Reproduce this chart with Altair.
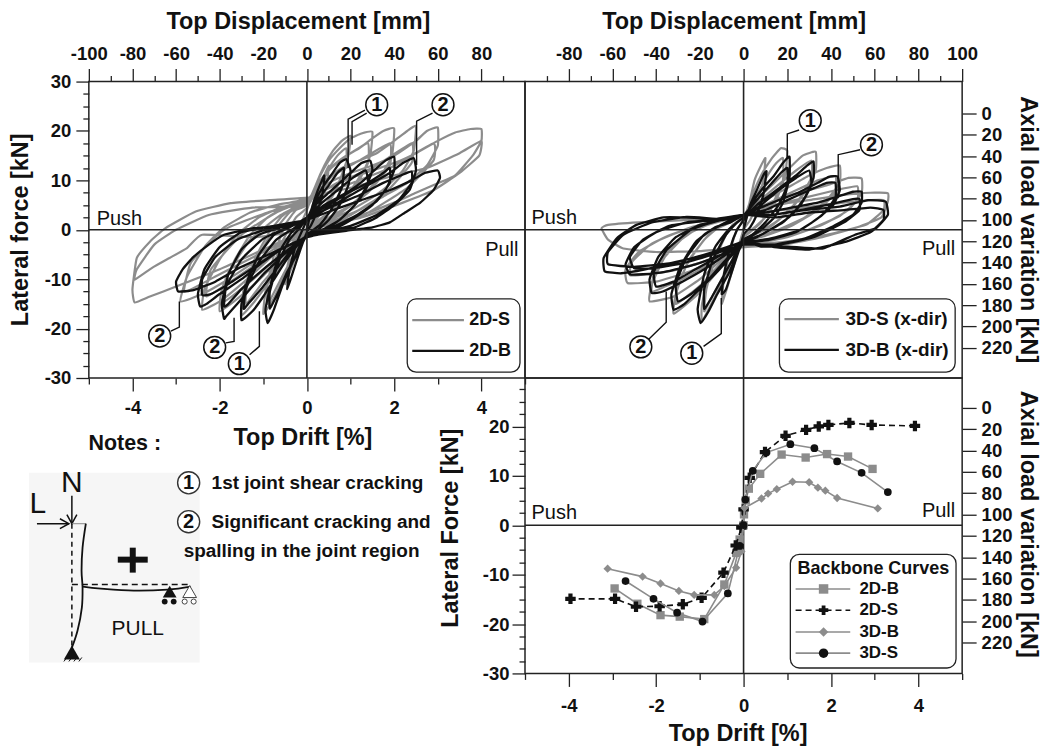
import altair as alt
import pandas as pd

FONT = "Liberation Sans"
GREY = "#8c8c8c"
BLACK = "#111111"
FRAME = "#222222"

# ---------- hysteresis series: (top displacement mm, lateral force kN) ----------
s2d = [
 (0,0),(3,5.5),(6,9),(10,13),(9,9),(6,5),(3,2.5),(0,0.5),(-3,-3),(-6,-6.5),(-10,-11),(-9,-7.5),(-6,-2),(-3,1),(0,4),
 (4,9),(8,13),(12,16),(16,18),(20,19),(19,15),(15,10),(10,6),(5,3),(0,0.5),(-4,-3),(-8,-7),(-12,-11),(-16,-14.5),(-20,-17),(-19,-12.5),(-15,-5),(-10,1),(-5,4),(0,5),
 (5,10),(10,14),(15,16.5),(20,18.5),(25,19.5),(30,19.8),(29,15),(24,10),(18,6.5),(12,4),(6,2),(0,0),(-6,-3.5),(-12,-7.5),(-18,-11),(-24,-14.5),(-30,-17.3),(-29,-12),(-24,-6),(-18,-1),(-12,2.5),(-6,4.5),(0,5.5),
 (6,10),(12,13),(18,15),(24,16.5),(30,18.5),(35,20),(40,20.5),(39,15),(34,11),(28,8),(20,5),(12,3),(6,1.5),(0,0),(-8,-3.5),(-16,-7.5),(-24,-11),(-32,-14),(-40,-16.5),(-39,-12),(-33,-6),(-26,-1),(-18,2.5),(-10,4.5),(0,6),
 (8,10),(16,12.5),(24,14),(32,15.5),(40,18),(46,20),(50,21),(49,16),(44,12),(36,8.5),(28,6),(18,3.5),(8,1.5),(0,0),(-10,-3),(-20,-7),(-30,-11),(-40,-14.5),(-48,-16.2),(-47,-12),(-40,-6),(-32,-1),(-22,2.5),(-12,4.5),(0,6),
 (10,9.5),(20,11.5),(30,13),(40,15),(50,18),(55,20),(60,20.7),(60,17),(55,13),(46,9.5),(36,7),(24,4),(10,1.5),(0,0),(-12,-3),(-24,-6.5),(-36,-10),(-48,-13),(-58,-14.5),(-55,-9.5),(-47,-3.5),(-38,0.5),(-26,3.5),(-14,5),(0,6.3),
 (20,10.5),(40,13.5),(50,15.5),(60,18),(68,19.7),(75,20.4),(80,20.4),(80,18),(76,15),(68,11),(60,9.4),(50,7.5),(40,5.5),(25,3),(10,1),(0,0),(-20,-4),(-40,-8),(-60,-11.5),(-72,-13.5),(-79,-14.7),(-80,-12),(-78,-5.7),(-72,-2.4),(-65,0.3),(-51,3.7),(-35,5.4),(-17,6),(0,6.5),
 (20,8.5),(40,11),(55,12.5),(70,15.5),(80,18),(79,15),(70,11.5),(58,8),(44,5.5),(25,2.5),(0,0),(-24,-1.5),(-48,-1),(-55,-3.7),(-63,-5.7),(-71,-7.7),(-79,-10.1),(-78,-8),(-70,-3),(-60,0),(-45,3),(-25,4.5),(0,5),
]
s2d_repeat = [
 (8,11),(14,15),(18,16.5),(18,13),(12,7),(5,2.5),(0,0.5),(-6,-5),(-12,-10),(-18,-15),(-18,-11),(-12,-3),(-5,2.5),(0,4.5),
 (10,12),(20,15.5),(28,17.5),(28,13.5),(20,8),(10,3.5),(0,0.2),(-10,-5.5),(-20,-10.5),(-28,-15),(-27,-10),(-18,-2),(-8,3.5),(0,5.5),
 (12,11),(24,14),(38,17.5),(38,13),(28,7.5),(14,3),(0,0),(-12,-5),(-26,-10.5),(-38,-14.5),(-37,-9.5),(-26,-2),(-12,3),(0,5.8),
 (14,9.5),(30,12.5),(48,17.5),(48,13.5),(36,7.5),(18,2.5),(0,0),(-15,-4.5),(-30,-9),(-46,-13.5),(-44,-8),(-30,-1),(-14,3.5),(0,6),
 (18,9),(38,12.5),(58,17.5),(58,14),(46,8.5),(26,3),(0,0),(-20,-4.5),(-40,-9),(-56,-12.5),(-53,-6.5),(-38,0),(-18,3.5),(0,5.5),
]
b2d = [
 (0,0),(2,4),(5,8),(8,11),(7,7),(4,3),(2,1),(0,-0.5),(-3,-4),(-6,-8),(-9,-12),(-8,-8),(-5,-3),(-2,0),(0,2),
 (3,5),(7,8.5),(11,11),(15,13.5),(18,14.3),(20,12),(19,9),(15,5),(10,2),(5,0),(0,-1),(-3,-3),(-7,-7),(-11,-11),(-15,-16),(-18,-18.9),(-19,-16),(-16,-10),(-12,-4),(-7,-0.5),(-3,1),(0,2.5),
 (5,5.5),(10,7.5),(15,9.5),(20,11.5),(25,13.5),(29,14),(30,12),(27,8.5),(22,5),(15,2),(8,0),(0,-1.2),(-5,-3.5),(-10,-6.5),(-15,-10),(-20,-13.5),(-25,-16.5),(-30,-18.3),(-30,-15),(-27,-10),(-22,-5),(-15,-1),(-8,0.5),(0,2.5),
 (8,5),(14,6.5),(20,8),(26,10),(32,12.5),(36,14),(40,14.8),(40,12),(36,8),(30,5),(22,2.5),(14,0.5),(6,-0.7),(0,-1.5),(-8,-4),(-14,-6.5),(-20,-9),(-26,-12),(-32,-15),(-37,-17.5),(-38,-18),(-39,-15),(-36,-9),(-30,-4),(-22,-1),(-12,0.5),(0,2),
 (10,4.5),(20,7),(30,9.5),(38,11.5),(44,13.5),(49,14.5),(50,12),(47,8),(40,5),(32,2.5),(22,0.5),(10,-0.5),(0,-1.5),(-10,-3.5),(-20,-6.5),(-30,-10),(-40,-13),(-46,-15),(-49,-15.5),(-50,-13),(-47,-8),(-40,-3.5),(-30,-0.5),(-15,0.8),(0,2),
 (12,4),(25,6),(38,8),(48,10),(54,11.5),(60,12),(61,10.5),(58,8),(52,5.5),(45,3.5),(38,1.5),(30,0.5),(18,-0.2),(5,-1),(0,-1.5),(-15,-4.5),(-30,-7.5),(-42,-10.5),(-52,-12.2),(-59,-12.5),(-60,-10.5),(-57,-8),(-52,-5.5),(-45,-3),(-38,-1),(-25,0.3),(-12,0.8),(0,2),
]
b2d_repeat = [
 (5,6),(10,9),(14,11.5),(17,12.5),(16,8.5),(11,4),(6,1),(0,-1),(-4,-4.5),(-9,-8.5),(-13,-12.5),(-17,-16),(-17,-12.5),(-13,-6.5),(-8,-2),(-3,0.5),(0,2.5),
 (7,5.5),(14,8),(21,10.5),(27,12),(28,9),(23,5.5),(15,2),(8,0.2),(0,-1.2),(-7,-4),(-14,-8),(-21,-12),(-27,-15),(-29,-16),(-28,-12),(-22,-6.5),(-14,-2),(-6,0.3),(0,2.5),
 (10,5),(19,7.5),(28,9.5),(35,11.5),(38,12.5),(38,9.5),(32,5.8),(23,3),(13,0.8),(0,-1.2),(-10,-4.5),(-20,-8),(-30,-12),(-36,-15),(-38,-15.5),(-37,-11.5),(-30,-6),(-20,-1.8),(-9,0.5),(0,2.2),
 (12,4.8),(24,7),(35,9.5),(43,11),(48,11.8),(48,9.5),(42,6),(32,3),(20,0.8),(8,-0.5),(0,-1.5),(-12,-4),(-24,-7.5),(-36,-11),(-44,-13),(-48,-13.2),(-48,-10),(-42,-5.5),(-32,-2),(-18,0.2),(0,2),
]
s3d = [
 (0,0),(2,4),(5,10),(8,13),(10,14.5),(9,10),(6,5),(3,2),(0,0),(-2,-3),(-4,-6.5),(-7,-11),(-10,-15),(-9,-10),(-6,-4),(-3,0),(0,2),
 (4,7),(8,11),(13,14.5),(17,16.5),(20,16),(19,11),(15,6),(10,2.5),(5,0.5),(0,-1.5),(-4,-5),(-8,-9),(-13,-13.5),(-19,-18.5),(-19,-15),(-15,-8),(-10,-2.5),(-5,1),(0,2.5),
 (7,6.5),(14,9.5),(21,12.5),(27,15),(33,15.8),(33,12),(28,7.5),(20,3.5),(12,0.5),(5,-1),(0,-2),(-7,-5.5),(-14,-9.5),(-22,-13.5),(-32,-17),(-31,-13),(-26,-7),(-18,-2),(-10,1),(0,3),
 (10,6),(20,8.5),(30,11),(38,12.5),(44,13),(44,9.5),(38,6),(28,2.5),(16,0),(6,-1.5),(0,-2.5),(-10,-6),(-20,-10),(-32,-13.5),(-43,-14.5),(-42,-11),(-36,-5.5),(-26,-1),(-14,1.5),(0,3),
 (12,5.5),(25,7.5),(38,9),(48,10.5),(54,10.4),(54,7.5),(48,4),(36,1),(20,-1.5),(8,-2.5),(0,-3),(-12,-6),(-25,-8.5),(-40,-10.5),(-53,-10.8),(-54,-8),(-48,-4.5),(-36,-1.5),(-20,1),(0,3),
 (15,5),(30,6),(45,7),(58,7.5),(66,7.4),(66,5.7),(63,2.5),(52,0.5),(36,-1.5),(18,-3),(0,-3.5),(-20,-4.3),(-40,-4.5),(-55,-3.8),(-62,-2),(-65,0.3),(-62,1),(-48,1.5),(-25,2),(0,2.5),
]
s3d_repeat = [
 (6,7),(11,11),(15,13.5),(18,14.5),(18,10),(13,5),(8,1.5),(3,-0.5),(0,-1.5),(-5,-6),(-10,-10),(-15,-14),(-18,-16.5),(-17,-12),(-13,-6),(-8,-1),(-3,1.5),(0,2.5),
 (9,6.5),(17,9.5),(24,12),(31,14),(31,10.5),(25,6),(16,2),(7,-0.5),(0,-2),(-9,-6),(-18,-10.5),(-26,-13.5),(-31,-15),(-30,-11),(-24,-5.5),(-15,-0.5),(-6,1.5),(0,3),
 (12,5.5),(24,8),(34,10),(42,10.8),(42,7.5),(34,4),(22,0.8),(10,-1.2),(0,-2.5),(-12,-6),(-26,-9.5),(-36,-11.5),(-42,-12.5),(-41,-9),(-33,-3.5),(-20,0.5),(0,3),
 (14,5),(28,6.5),(42,8),(52,8.8),(52,6),(44,2.8),(28,-0.3),(12,-2),(0,-3),(-14,-5.8),(-30,-8),(-44,-9),(-52,-9.2),(-51,-6.5),(-42,-2.8),(-24,0.5),(0,3),
 (18,4),(36,5),(52,5.8),(64,6),(64,4),(56,1),(38,-1),(18,-2.5),(0,-3),
]
b3d = [
 (0,0),(3,5),(6,8),(9,11),(10.5,11.8),(9,7),(6,3),(3,0.5),(0,-1),(-2,-4),(-5,-8),(-8,-12),(-10,-13),(-9,-9),(-6,-3.5),(-3,0),(0,2),
 (4,5.5),(9,8.5),(14,11),(18,13.5),(21,14.8),(21,10.5),(18,5.5),(14,2.5),(8,0),(3,-1.5),(0,-2.5),(-3,-5),(-7,-9),(-12,-13),(-16,-16.5),(-19.6,-18.9),(-21,-16),(-18,-9),(-13,-3.5),(-7,0),(0,2.5),
 (6,5),(12,7),(18,9),(24,11),(29,13),(32,13.8),(32,10.5),(28,6.5),(22,3),(14,0.5),(6,-1.5),(0,-2.7),(-5,-5),(-12,-8.5),(-20,-12),(-27,-15),(-32,-16.2),(-33,-13),(-29,-7.5),(-22,-2.5),(-13,0.5),(-6,1.5),(0,3),
 (8,4.5),(16,6),(25,7.5),(34,9.5),(39,10.7),(43,10.8),(44,8),(41,5),(33,2),(24,-0.5),(12,-2),(0,-2.8),(-8,-5),(-18,-8),(-28,-10.5),(-37,-12.5),(-42,-12.8),(-43,-10),(-39,-5.5),(-31,-1.5),(-20,1),(-10,2),(0,3),
 (10,3.5),(22,4.5),(34,5.5),(45,7),(50,7.7),(54,7.7),(54,5.5),(50,3),(40,0.5),(28,-1.8),(14,-3),(0,-3),(-10,-5),(-22,-7),(-36,-8.5),(-46,-9),(-52,-9),(-54,-7),(-50,-3.5),(-40,-0.5),(-26,1.5),(-12,2),(0,3),
 (13,3),(28,4),(44,4.7),(57,6),(65,5.7),(66,3),(60.5,0.3),(51,-1),(36,-3.8),(20.5,-3.4),(8,-3.4),(0,-2.4),(-14,-4.5),(-30,-6.5),(-45,-8),(-56,-8.8),(-63.5,-8.4),(-64,-5.7),(-58,-1.7),(-49,1),(-36.5,2.5),(-22.6,2.4),(-10,2),(0,3),
]
b3d_repeat = [
 (6,6),(12,9),(17,11.5),(20,12.5),(20,9),(16,5),(10,1.5),(4,-1),(0,-2),(-5,-6),(-10,-10),(-15,-14),(-18,-16),(-18,-12),(-14,-6),(-8,-1),(-3,1.5),(0,2.5),
 (8,5),(16,8),(24,10.5),(30,12),(31,9),(26,5),(18,1.5),(8,-1),(0,-2.5),(-8,-6),(-16,-10),(-24,-13),(-30,-14.5),(-31,-11),(-26,-5.5),(-18,-1),(-8,1.5),(0,3),
 (10,4),(20,6),(30,8),(38,9.5),(42,9.5),(42,6.5),(36,3),(26,0),(12,-1.8),(0,-2.6),(-10,-5),(-22,-8),(-32,-10.5),(-40,-11.5),(-41,-8.5),(-35,-4),(-24,0),(-12,1.8),(0,3),
 (12,3),(26,4),(40,5.2),(50,6.2),(53,6.2),(53,4),(46,1.5),(32,-1.5),(16,-3),(0,-3),(-14,-5),(-28,-6.8),(-42,-7.8),(-50,-7.8),(-52,-5.5),(-46,-2),(-34,0.8),(-18,1.8),(0,3),
 (15,2.5),(30,3.5),(46,4),(58,4.5),(64,4),(64,2),(58,-0.5),(46,-2.5),(30,-4),(14,-3.5),(0,-2.4),(-16,-5),(-34,-6.8),(-50,-7.5),(-62,-7),(-62,-4.5),(-55,-1),(-42,1.5),(-26,2.6),(-10,2.2),(0,3),
]

# ---------- backbone curves: (top drift %, lateral force kN) ----------
bb_2db = [(2.95,11.4),(2.39,13.9),(1.91,14.4),(1.42,13.7),(0.87,14.3),(0.38,10.4),(0.12,7.4),(0.05,5),(0.01,2.2),(0,0),(-0.09,-2.9),(-0.17,-5.6),(-0.44,-12),(-0.9,-19),(-1.46,-18.5),(-1.9,-18.2),(-2.43,-15.9),(-2.95,-12.8)]
bb_2ds = [(3.92,20.1),(2.93,20.3),(2.42,20.7),(1.94,20.3),(1.72,20),(1.43,19.3),(0.96,18.1),(0.49,14.8),(0.14,9.6),(0,3.2),(-0.05,-0.5),(-0.18,-4.1),(-0.46,-9.6),(-0.96,-14.7),(-1.39,-16),(-1.92,-16.4),(-2.46,-16.5),(-2.94,-14.9),(-3.96,-14.9)]
bb_3db = [(3.07,3.4),(2.14,5.5),(1.87,7),(1.7,7.6),(1.5,8.7),(1.12,8.8),(0.76,7.3),(0.56,6.4),(0.41,5.4),(0.02,3.5),(0,0),(-0.05,-5.3),(-0.17,-8.6),(-0.44,-12.3),(-0.67,-14.1),(-1.13,-14.1),(-1.48,-13.3),(-1.9,-11.8),(-2.31,-10.4),(-3.11,-8.8)]
bb_3ds = [(3.3,6.7),(2.7,10.6),(2.14,12.9),(1.62,15.6),(1.07,16.4),(0.52,14.7),(0.21,11),(0.04,5.2),(0,0),(-0.09,-4.2),(-0.36,-13.8),(-0.94,-19.5),(-1.52,-17.7),(-2.06,-14.9),(-2.7,-11.3)]

# ---------- axis values ----------
mm_major = [-100,-80,-60,-40,-20,0,20,40,60,80,100]
force_major = [30,20,10,0,-10,-20,-30]
force_minor = [27.5,25,22.5,17.5,15,12.5,7.5,5,2.5,-2.5,-5,-7.5,-12.5,-15,-17.5,-22.5,-25,-27.5]
axial_vals = [0,20,40,60,80,100,120,140,160,180,200,220]

W_A, W_B, H_T, H_B = 437, 438, 297, 296
MM = [-100, 100]
DR = [-5, 5]
FT = [-30, 30]
FB = [-30, 29.8]
# the axial axes share the force scale: force = K - (axial + Z) * R
AX_T = (30, 30, 60 / 278.5)
AX_B = (29.8, 28, 59.8 / 277)
TITLE = 23.5
TICK = 18.5


def scale(dom):
    return alt.Scale(domain=dom, nice=False, zero=False)


def frame(points):
    return pd.DataFrame([{"x": a, "y": b, "i": k} for k, (a, b) in enumerate(points)])


def axis_layer(channel, values, xd, yd, **kw):
    base = dict(values=values, grid=False, domain=False, tickColor=FRAME, tickWidth=1.3,
                labelFlush=False, labelOverlap=False,
                labelFont=FONT, labelFontWeight="bold", labelFontSize=TICK, labelColor=BLACK,
                titleFont=FONT, titleFontWeight="bold", titleFontSize=TITLE, titleColor=BLACK,
                titleBaseline="middle")
    base.update(kw)
    df = pd.DataFrame({"x": [xd[0]], "y": [yd[0]]})
    ax = alt.Axis(**base)
    enc_x = alt.X("x:Q", scale=scale(xd), axis=ax if channel == "x" else None)
    enc_y = alt.Y("y:Q", scale=scale(yd), axis=ax if channel == "y" else None)
    return alt.Chart(df).mark_point(opacity=0).encode(x=enc_x, y=enc_y)


def axial_axis(cfg, xd, yd, **kw):
    k, z, r = cfg
    vals = [k - (a + z) * r for a in axial_vals]
    expr = "'' + round((%r - datum.value) / %r - %r)" % (k, r, z)
    return axis_layer("y", vals, xd, yd, orient="right", tickSize=14, labelPadding=5,
                      labelExpr=expr, title="Axial load variation [kN]", titleAngle=90, **kw)


def line(points, xd, yd, interpolate="linear", **mk):
    return alt.Chart(frame(points)).mark_line(interpolate=interpolate, clip=False, **mk).encode(
        x=alt.X("x:Q", scale=scale(xd), axis=None),
        y=alt.Y("y:Q", scale=scale(yd), axis=None),
        order="i:Q")


def pts(points, xd, yd, **mk):
    return alt.Chart(frame(points)).mark_point(**mk).encode(
        x=alt.X("x:Q", scale=scale(xd), axis=None),
        y=alt.Y("y:Q", scale=scale(yd), axis=None))


def text(s, x, y, xd, yd, size=20, weight="normal", align="left", baseline="alphabetic", color=BLACK):
    df = pd.DataFrame({"x": [x], "y": [y], "t": [s]})
    return alt.Chart(df).mark_text(font=FONT, fontSize=size, fontWeight=weight, align=align,
                                   baseline=baseline, color=color).encode(
        x=alt.X("x:Q", scale=scale(xd), axis=None),
        y=alt.Y("y:Q", scale=scale(yd), axis=None),
        text="t:N")


def box(x0, x1, y0, y1, xd, yd, corner=9, stroke=FRAME, fill="white", width=1.3):
    df = pd.DataFrame({"x": [x0], "x2": [x1], "y": [y0], "y2": [y1]})
    return alt.Chart(df).mark_rect(cornerRadius=corner, stroke=stroke, fill=fill, strokeWidth=width).encode(
        x=alt.X("x:Q", scale=scale(xd), axis=None), x2="x2:Q",
        y=alt.Y("y:Q", scale=scale(yd), axis=None), y2="y2:Q")


def callout(num, cx, cy, path, xd, yd):
    return [
        line(path, xd, yd, color=BLACK, strokeWidth=1.4),
        pts([(cx, cy)], xd, yd, shape="circle", size=480, filled=True, fill="white",
            stroke=BLACK, strokeWidth=1.5, opacity=1),
        text(num, cx, cy, xd, yd, size=20, weight="bold", align="center", baseline="middle"),
    ]


def zero_lines(xd, yd):
    return [line([(0, yd[0]), (0, yd[1])], xd, yd, color=FRAME, strokeWidth=1.6),
            line([(xd[0], 0), (xd[1], 0)], xd, yd, color=FRAME, strokeWidth=1.6)]


# ---------- panel A ----------
A = []
A.append(axis_layer("x", mm_major[:-1], MM, FT, orient="top", tickSize=13, labelPadding=5,
                    labelExpr="'' + datum.value", title="Top Displacement [mm]",
                    titleX=209.5, titleY=-60))
A.append(axis_layer("x", [-90,-70,-50,-30,-10,10,30,50,70,90], MM, FT, orient="top", tickSize=6, labels=False, title=None))
A.append(axis_layer("x", [-80,-40,0,40,80], MM, FT, orient="bottom", tickSize=13, labelPadding=8,
                    labelExpr="'' + (datum.value / 20)", title="Top Drift [%]", titleX=214, titleY=60))
A.append(axis_layer("x", [-100,-60,-20,20,60,100], MM, FT, orient="bottom", tickSize=6, labels=False, title=None))
A.append(axis_layer("y", force_major, MM, FT, orient="left", tickSize=13, labelPadding=5,
                    labelExpr="'' + datum.value", title="Lateral force [kN]",
                    titleX=-68, titleY=148, titleAngle=270))
A.append(axis_layer("y", force_minor, MM, FT, orient="left", tickSize=6, labels=False, title=None))
A.append(line(s2d + s2d_repeat, MM, FT, interpolate="cardinal", tension=0.6, color=GREY, strokeWidth=2.2))
A.append(line(b2d + b2d_repeat, MM, FT, interpolate="cardinal", tension=0.6, color=BLACK, strokeWidth=2.3))
A += zero_lines(MM, FT)
A.append(text("Push", -96.4, 0.9, MM, FT))
A.append(text("Pull", 97, -5.4, MM, FT, align="right"))
A += callout("1", 32, 25.3, [(26.6,24.2),(18.9,22.4),(18.9,12.5)], MM, FT)
A.append(line([(27.4,23.6),(20.7,21.9),(20.7,17.2)], MM, FT, color=BLACK, strokeWidth=1.4))
A += callout("2", 62.4, 25.3, [(57.6,23.6),(50.3,22),(50.3,13.1)], MM, FT)
A += callout("2", -67.5, -21.5, [(-62.4,-20.5),(-58.5,-19.7),(-58.5,-14.5)], MM, FT)
A += callout("2", -42.3, -23.8, [(-37.2,-22.9),(-33.4,-22.6),(-33.4,-17.8)], MM, FT)
A += callout("1", -31, -27.1, [(-26.3,-25.3),(-21.8,-23.6),(-21.8,-16.5)], MM, FT)
A.append(box(46, 97.7, -14, -28.8, MM, FT))
A.append(line([(48.3,-18.3),(72,-18.3)], MM, FT, color=GREY, strokeWidth=2.2))
A.append(line([(48.3,-24.5),(72,-24.5)], MM, FT, color=BLACK, strokeWidth=2.2))
A.append(text("2D-S", 74.4, -18.3, MM, FT, size=18, weight="bold", baseline="middle"))
A.append(text("2D-B", 74.4, -24.5, MM, FT, size=18, weight="bold", baseline="middle"))
panel_A = alt.layer(*A).resolve_axis(x="independent", y="independent").properties(width=W_A, height=H_T)

# ---------- panel B ----------
B = []
B.append(axis_layer("x", mm_major[1:], MM, FT, orient="top", tickSize=13, labelPadding=5,
                    labelExpr="'' + datum.value", title="Top Displacement [mm]",
                    titleX=209, titleY=-60))
B.append(axis_layer("x", [-90,-70,-50,-30,-10,10,30,50,70,90], MM, FT, orient="top", tickSize=6, labels=False, title=None))
B.append(axial_axis(AX_T, MM, FT, titleX=65.5, titleY=148))
B.append(line(s3d + s3d_repeat, MM, FT, interpolate="cardinal", tension=0.6, color=GREY, strokeWidth=2.2))
B.append(line(b3d + b3d_repeat, MM, FT, interpolate="cardinal", tension=0.6, color=BLACK, strokeWidth=2.3))
B += zero_lines(MM, FT)
B.append(text("Push", -97, 1.1, MM, FT))
B.append(text("Pull", 96.8, -5.2, MM, FT, align="right"))
B += callout("1", 30.5, 22.1, [(25.4,20.2),(20,19.4),(20,14.5)], MM, FT)
B += callout("2", 58.5, 17.2, [(53.3,16.2),(43.3,15.2),(43.3,6.4)], MM, FT)
B += callout("2", -47, -23.7, [(-43.5,-22.2),(-35.4,-18.7),(-35.4,-12.5)], MM, FT)
B += callout("1", -23.7, -25, [(-18.3,-23.6),(-10.2,-21),(-10.2,-13.8)], MM, FT)
B.append(box(16.4, 96.8, -14, -28.8, MM, FT))
B.append(line([(18.7,-18.1),(43.6,-18.1)], MM, FT, color=GREY, strokeWidth=2.2))
B.append(line([(18.7,-24.3),(43.6,-24.3)], MM, FT, color=BLACK, strokeWidth=2.2))
B.append(text("3D-S (x-dir)", 46.6, -18.1, MM, FT, size=19, weight="bold", baseline="middle"))
B.append(text("3D-B (x-dir)", 46.6, -24.3, MM, FT, size=19, weight="bold", baseline="middle"))
panel_B = alt.layer(*B).resolve_axis(x="independent", y="independent").properties(width=W_B, height=H_T)

# ---------- panel C ----------
C = []
C.append(axis_layer("x", [-4,-2,0,2,4], DR, FB, orient="bottom", tickSize=13, labelPadding=10,
                    labelExpr="'' + datum.value", title="Top Drift [%]", titleX=213, titleY=60))
C.append(axis_layer("x", [-5,-3,-1,1,3,5], DR, FB, orient="bottom", tickSize=6, labels=False, title=None))
C.append(axis_layer("y", force_major[1:], DR, FB, orient="left", tickSize=13, labelPadding=3,
                    labelExpr="'' + datum.value", title="Lateral Force [kN]",
                    titleX=-75, titleY=150, titleAngle=270))
C.append(axis_layer("y", force_minor, DR, FB, orient="left", tickSize=6, labels=False, title=None))
C.append(axial_axis(AX_B, DR, FB, titleX=65.5, titleY=146))
C += zero_lines(DR, FB)
C.append(line(bb_2db, DR, FB, color=GREY, strokeWidth=1.6))
C.append(pts(bb_2db, DR, FB, shape="square", size=70, filled=True, color=GREY, opacity=1))
C.append(line(bb_2ds, DR, FB, color=BLACK, strokeWidth=1.6, strokeDash=[6, 4]))
C.append(pts(bb_2ds, DR, FB, shape="cross", size=110, filled=True, color=BLACK, opacity=1))
C.append(line(bb_3db, DR, FB, color=GREY, strokeWidth=1.6))
C.append(pts(bb_3db, DR, FB, shape="diamond", size=70, filled=True, color=GREY, opacity=1))
C.append(line(bb_3ds, DR, FB, color=GREY, strokeWidth=1.6))
C.append(pts(bb_3ds, DR, FB, shape="circle", size=60, filled=True, color=BLACK, opacity=1))
C.append(text("Push", -4.85, 1.3, DR, FB))
C.append(text("Pull", 4.84, 1.7, DR, FB, align="right"))
C.append(box(1.07, 4.86, -5.9, -28.9, DR, FB))
C.append(text("Backbone Curves", 2.97, -8.9, DR, FB, size=18, weight="bold", align="center", baseline="middle"))
rows = [("2D-B", -12.9, GREY, "square", GREY, None), ("2D-S", -17.2, BLACK, "cross", BLACK, [6, 4]),
        ("3D-B", -21.6, GREY, "diamond", GREY, None), ("3D-S", -25.9, GREY, "circle", BLACK, None)]
for name, yy, lc, shp, mc, dash in rows:
    kw = {"strokeDash": dash} if dash else {}
    C.append(line([(1.19, yy), (2.44, yy)], DR, FB, color=lc, strokeWidth=1.6, **kw))
    C.append(pts([(1.83, yy)], DR, FB, shape=shp, size=90, filled=True, color=mc, opacity=1))
    C.append(text(name, 2.65, yy, DR, FB, size=17, weight="bold", baseline="middle"))
panel_C = alt.layer(*C).resolve_axis(x="independent", y="independent").properties(width=W_B, height=H_B)

# ---------- notes panel: schematic units ----------
NX = [0, 437]
NY = [296, 0]
def ox(v): return v - 88
def oy(v): return v - 377
def P(seq): return [(ox(a), oy(b)) for a, b in seq]

N = []
N.append(box(ox(28), ox(199), oy(472), oy(662), NX, NY, corner=0, stroke="#f6f6f6", fill="#f6f6f6", width=0))
N.append(text("Notes :", ox(124), oy(443), NX, NY, size=21.5, weight="bold", align="center", baseline="middle"))
N.append(text("N", ox(71), oy(482), NX, NY, size=30, align="center", baseline="middle"))
N.append(text("L", ox(37), oy(503), NX, NY, size=30, align="center", baseline="middle"))
arrow = dict(color=BLACK, strokeWidth=1.5)
N.append(line(P([(71,495),(71,522)]), NX, NY, **arrow))
N.append(line(P([(66,514),(71,523),(76,514)]), NX, NY, **arrow))
N.append(line(P([(36,523),(68,523)]), NX, NY, **arrow))
N.append(line(P([(59,518),(68,523),(59,528)]), NX, NY, **arrow))
N.append(line(P([(71,523),(85,523)]), NX, NY, color="#888888", strokeWidth=1))
N.append(line(P([(71,523),(71,648)]), NX, NY, color=BLACK, strokeWidth=1.5, strokeDash=[5, 4]))
N.append(line(P([(71,584),(188,584)]), NX, NY, color=BLACK, strokeWidth=1.5, strokeDash=[6, 4]))
N.append(line(P([(85,523),(81.7,547),(80.7,570),(81.7,587),(81,607),(76.7,630),(70.7,648)]), NX, NY,
              interpolate="cardinal", color=BLACK, strokeWidth=1.8))
N.append(line(P([(82,586),(100,588),(133,590),(167,589),(190,586)]), NX, NY,
              interpolate="cardinal", color=BLACK, strokeWidth=1.8))
N.append(line(P([(117,559),(147,559)]), NX, NY, color=BLACK, strokeWidth=6))
N.append(line(P([(132,547),(132,572)]), NX, NY, color=BLACK, strokeWidth=6))
N.append(pts(P([(169,591)]), NX, NY, shape="triangle-up", size=190, filled=True, color=BLACK, opacity=1))
N.append(pts(P([(164,601),(173,601)]), NX, NY, shape="circle", size=34, filled=True, color=BLACK, opacity=1))
N.append(pts(P([(189,591)]), NX, NY, shape="triangle-up", size=190, filled=True, fill="white", stroke="#444444", strokeWidth=1, opacity=1))
N.append(pts(P([(184,601),(193,601)]), NX, NY, shape="circle", size=26, filled=True, fill="white", stroke="#444444", strokeWidth=1, opacity=1))
N.append(pts(P([(71,652)]), NX, NY, shape="triangle-up", size=260, filled=True, color=BLACK, opacity=1))
for a in [64, 69, 74, 79]:
    N.append(line(P([(a + 2, 657), (a - 1, 661)]), NX, NY, color=BLACK, strokeWidth=1))
N.append(text("PULL", ox(137), oy(628), NX, NY, size=21, align="center", baseline="middle"))
N.append(pts(P([(188,482),(188,521)]), NX, NY, shape="circle", size=490, filled=True, fill="white", stroke="#333333", strokeWidth=1.4, opacity=1))
N.append(text("1", ox(188), oy(482), NX, NY, size=20, weight="bold", align="center", baseline="middle"))
N.append(text("2", ox(188), oy(521), NX, NY, size=20, weight="bold", align="center", baseline="middle"))
N.append(text("1st joint shear cracking", ox(211), oy(482), NX, NY, size=19, weight="bold", baseline="middle"))
N.append(text("Significant cracking and", ox(211), oy(521), NX, NY, size=19, weight="bold", baseline="middle"))
N.append(text("spalling in the joint region", ox(183), oy(550), NX, NY, size=19, weight="bold", baseline="middle"))
panel_N = alt.layer(*N).properties(width=W_A, height=H_B, view=alt.ViewConfig(stroke=None))

chart = alt.concat(panel_A, panel_B, panel_N, panel_C, columns=2, spacing=0, bounds="flush").properties(
    padding={"left": 0, "top": 0, "right": 0, "bottom": 0}
).configure(view=alt.ViewConfig(stroke=FRAME, strokeWidth=1.5), background="white")

chart.save("out.html", embed_options={"renderer": "svg", "actions": False})
